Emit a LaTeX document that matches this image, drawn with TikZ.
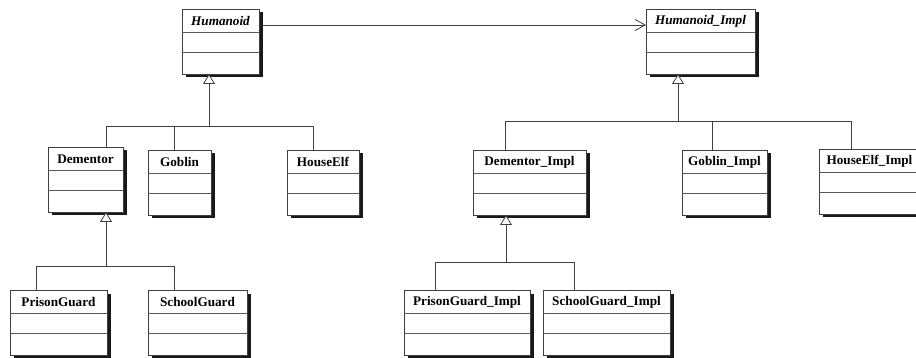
\documentclass[tikz,border=0pt]{standalone}
\usepackage{fontspec}
\setmainfont{Liberation Serif}
\usetikzlibrary{arrows.meta}
\tikzset{
  umlbox/.style={draw=black!75, fill=white, line width=0.8pt, minimum height=65pt, inner sep=0pt, outer sep=0pt},
  umlshadow/.style={fill=black!90},
  umlsep/.style={draw=black!65, line width=0.7pt},
  umlname/.style={inner sep=0pt, text=black},
  conn/.style={draw=black!75, line width=0.8pt},
  gen/.style={conn, -{Triangle[open, length=10pt, width=12pt, fill=white]}},
  assoc/.style={conn, -{Straight Barb[length=10pt, width=11pt]}},
}
\newcommand\umlcls[6]{%
  \fill[umlshadow] (#2+3.5,#3+3.5) rectangle ++(#4,65);
  \node[umlbox, minimum width=#4pt, anchor=north west] (#1) at (#2,#3) {};
  \draw[umlsep] ([yshift=-23pt]#1.north west) -- ([yshift=-23pt]#1.north east);
  \draw[umlsep] ([yshift=-43pt]#1.north west) -- ([yshift=-43pt]#1.north east);
  \node[umlname, font=#6] (#1-name) at ([yshift=-12pt]#1.north) {#5};
}
\begin{document}
\begin{tikzpicture}[x=1pt, y=-1pt]
\clip (0,0) rectangle (916,358);
\fill[white] (0,0) rectangle (916,358);
\def\nf{\fontsize{13.2}{15}\selectfont\bfseries}
\def\itf{\fontsize{13.2}{15}\selectfont\bfseries\itshape}
% classes
\umlcls{humanoid}{182}{9}{77}{Humanoid}{\itf}
\umlcls{humimpl}{646}{9}{109}{Humanoid\_Impl}{\itf}
\umlcls{dementor}{48}{147}{75}{Dementor}{\nf}
\umlcls{goblin}{148}{150}{63}{Goblin}{\nf}
\umlcls{houseelf}{287}{150}{72}{HouseElf}{\nf}
\umlcls{dementorimpl}{473}{150}{113}{Dementor\_Impl}{\nf}
\umlcls{goblinimpl}{682}{150}{85}{Goblin\_Impl}{\nf}
\umlcls{houseelfimpl}{819}{149}{101}{HouseElf\_Impl}{\nf}
\umlcls{prisonguard}{10}{290}{97}{PrisonGuard}{\nf}
\umlcls{schoolguard}{148}{290}{99}{SchoolGuard}{\nf}
\umlcls{pgimpl}{404}{290}{126}{PrisonGuard\_Impl}{\nf}
\umlcls{sgimpl}{543}{290}{127}{SchoolGuard\_Impl}{\nf}
% association
\draw[assoc] ([yshift=-16pt,xshift=3.5pt]humanoid.north east) -- ([yshift=-16pt]humimpl.north west);
% Humanoid tree
\coordinate (hbar) at (209,126);
\coordinate (hj1) at (106,126);
\coordinate (hj2) at (174,126);
\coordinate (hj3) at (313,126);
\draw[gen] (hbar) -- (hbar |- humanoid.south);
\draw[conn] (hj1 |- dementor.north) -- (hj1) -- (hj3) -- (hj3 |- houseelf.north);
\draw[conn] (hj2) -- (hj2 |- goblin.north);
% Humanoid_Impl tree
\coordinate (ibar) at (678,121);
\coordinate (ij1) at (505,121);
\coordinate (ij2) at (712,121);
\coordinate (ij3) at (851,121);
\draw[gen] (ibar) -- (ibar |- humimpl.south);
\draw[conn] (ij1 |- dementorimpl.north) -- (ij1) -- (ij3) -- (ij3 |- houseelfimpl.north);
\draw[conn] (ij2) -- (ij2 |- goblinimpl.north);
% Dementor tree
\coordinate (dbar) at (106,266);
\coordinate (dj1) at (36,266);
\coordinate (dj2) at (174,266);
\draw[gen] (dbar) -- (dbar |- dementor.south);
\draw[conn] (dj1 |- prisonguard.north) -- (dj1) -- (dj2) -- (dj2 |- schoolguard.north);
% Dementor_Impl tree
\coordinate (ebar) at (506,262);
\coordinate (ej1) at (435,262);
\coordinate (ej2) at (574,262);
\draw[gen] (ebar) -- (ebar |- dementorimpl.south);
\draw[conn] (ej1 |- pgimpl.north) -- (ej1) -- (ej2) -- (ej2 |- sgimpl.north);
\end{tikzpicture}
\end{document}
